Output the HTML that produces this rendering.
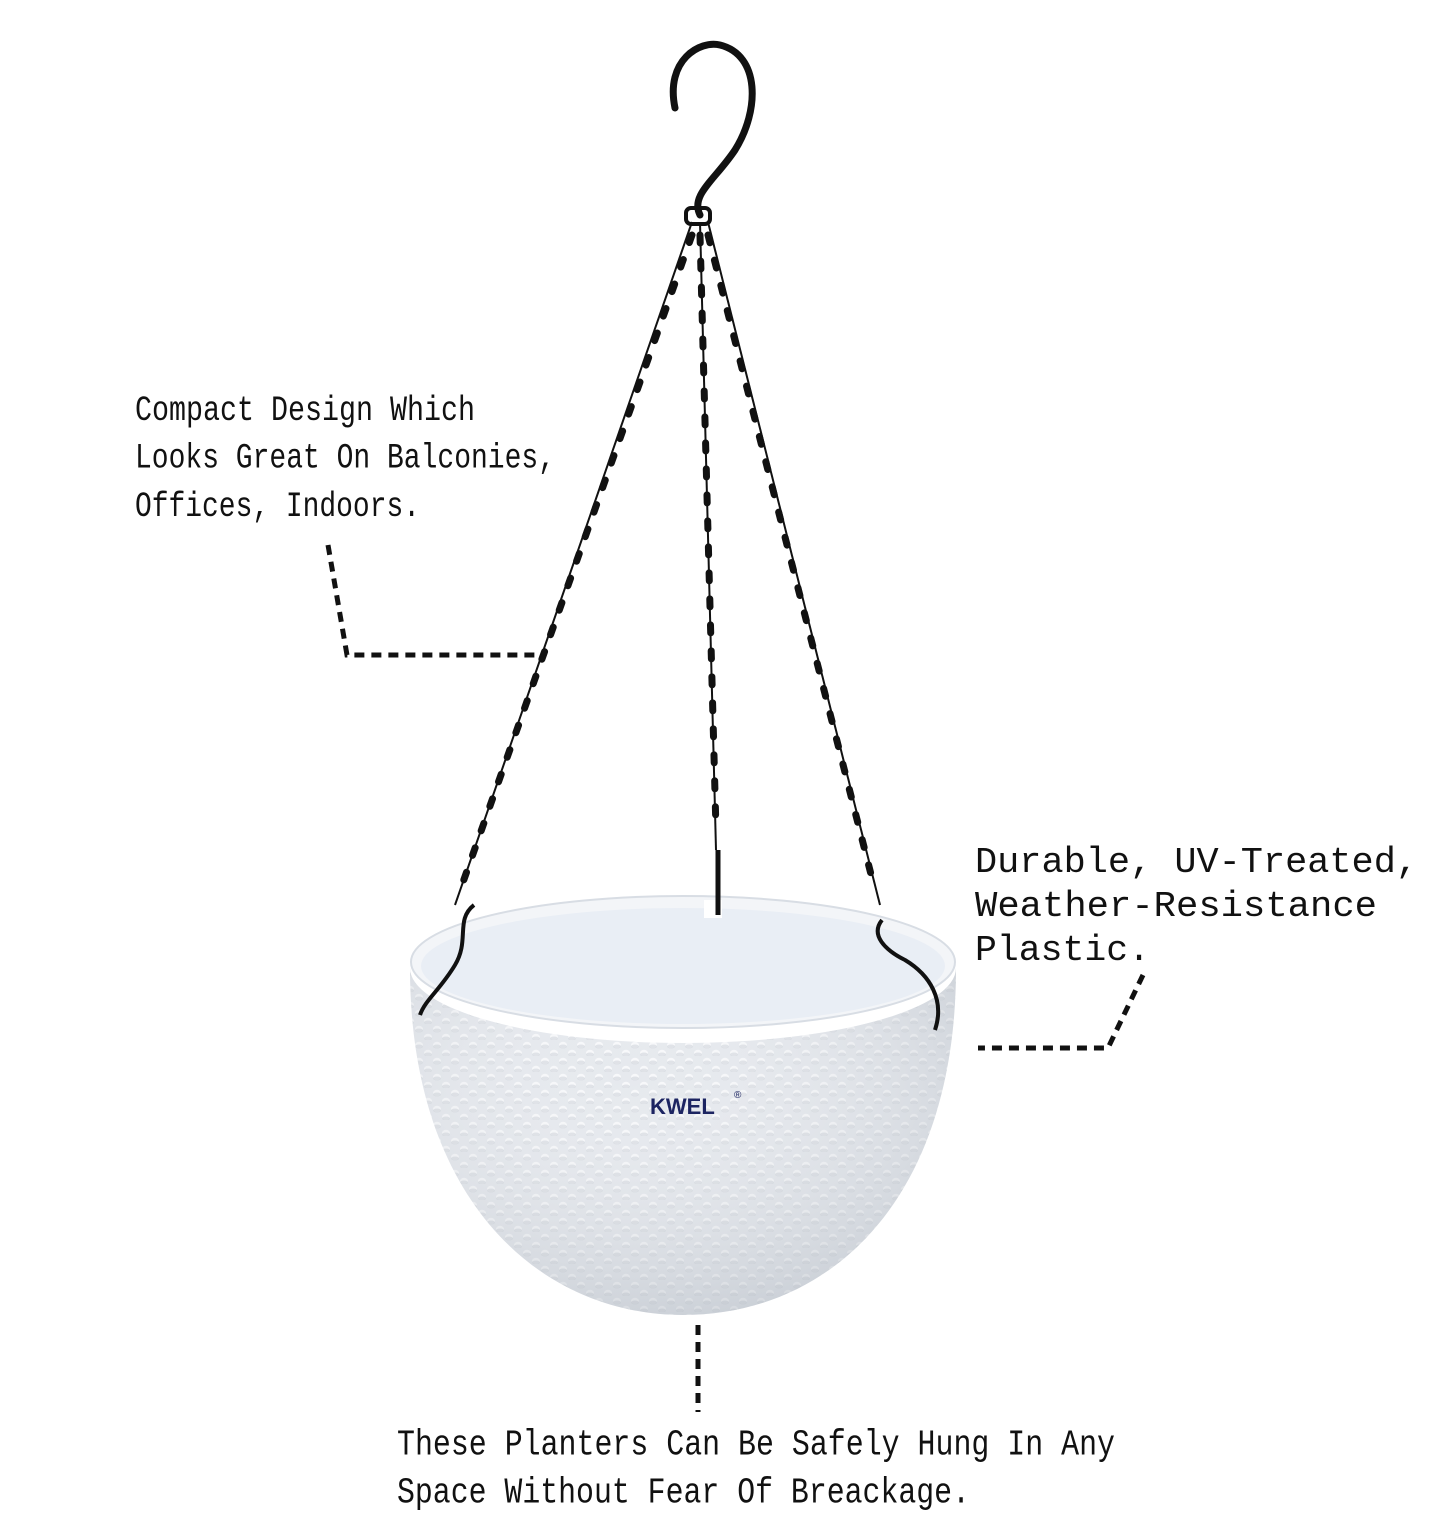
<!DOCTYPE html>
<html><head><meta charset="utf-8"><style>
html,body{margin:0;padding:0;background:#fff;}
svg{display:block}
.t{font-family:"Liberation Mono",monospace;fill:#111;}
</style></head><body>
<svg width="1445" height="1520" viewBox="0 0 1445 1520" xmlns="http://www.w3.org/2000/svg">
<defs>
<pattern id="dots" width="18" height="16" patternUnits="userSpaceOnUse">
<rect width="18" height="16" fill="#e6e9ee"/>
<ellipse cx="5" cy="5" rx="4" ry="3.2" fill="#f7f8fa"/>
<ellipse cx="5" cy="6.5" rx="4" ry="2" fill="#cfd4db" opacity="0.6"/>
<ellipse cx="14" cy="13" rx="4" ry="3.2" fill="#f7f8fa"/>
<ellipse cx="14" cy="14.5" rx="4" ry="2" fill="#cfd4db" opacity="0.6"/>
</pattern>
<radialGradient id="shade" cx="0.4" cy="0.3" r="0.8">
<stop offset="0" stop-color="#fff" stop-opacity="0"/>
<stop offset="1" stop-color="#9aa3ae" stop-opacity="0.45"/>
</radialGradient>
</defs>

<!-- hook -->
<path d="M675 108 C665 60 700 40 720 45 C760 55 760 110 735 150 C715 180 690 195 700 215" fill="none" stroke="#111" stroke-width="7" stroke-linecap="round"/>
<rect x="686" y="208" width="24" height="16" rx="5" fill="none" stroke="#111" stroke-width="4"/>

<!-- chains -->
<g stroke="#111" fill="none">
<line x1="692" y1="222" x2="455" y2="905" stroke-width="2"/>
<line x1="700" y1="222" x2="716" y2="850" stroke-width="2"/>
<line x1="708" y1="222" x2="880" y2="905" stroke-width="2"/>
</g>
<g stroke="#111" stroke-width="7" stroke-dasharray="8 18" stroke-linecap="round" fill="none">
<line x1="692" y1="235" x2="462" y2="885"/>
<line x1="700" y1="235" x2="716" y2="830"/>
<line x1="708" y1="235" x2="875" y2="890"/>
</g>

<!-- bowl body -->
<path d="M410 968 A273 75 0 0 0 956 968 C956 1200 830 1315 683 1315 C540 1315 410 1200 410 968 Z" fill="url(#dots)"/>
<path d="M410 968 A273 75 0 0 0 956 968 C956 1200 830 1315 683 1315 C540 1315 410 1200 410 968 Z" fill="url(#shade)"/>
<!-- rim / interior -->
<ellipse cx="683" cy="962" rx="272" ry="66" fill="#f3f5f8" stroke="#d8dde4" stroke-width="2"/>
<ellipse cx="683" cy="966" rx="262" ry="58" fill="#e9eef5"/>
<rect x="704" y="900" width="18" height="18" fill="#fff"/>
<text x="650" y="1114" font-family="Liberation Sans,sans-serif" font-weight="bold" font-size="22" fill="#1c2461">KWEL</text>
<text x="734" y="1098" font-family="Liberation Sans,sans-serif" font-size="10" fill="#1c2461">®</text>

<!-- hooks on rim -->
<path d="M474 905 C455 920 470 940 455 965 C440 990 425 1000 420 1015" fill="none" stroke="#111" stroke-width="4"/>
<path d="M882 920 C870 935 885 950 905 960 C930 975 945 1000 935 1030" fill="none" stroke="#111" stroke-width="4"/>
<path d="M718 850 L718 915" stroke="#111" stroke-width="5"/>

<!-- dotted connectors -->
<g stroke="#111" stroke-width="5" stroke-dasharray="10 7" fill="none">
<path d="M328 545 L347 655 L545 655"/>
<path d="M1143 975 L1108 1048 L978 1048"/>
<path d="M698 1325 L698 1412"/>
</g>

<!-- text -->
<g class="t" font-size="28" transform="scale(1,1.25)">
<text x="135" y="336" textLength="340" lengthAdjust="spacingAndGlyphs">Compact Design Which</text>
<text x="135" y="374" textLength="420" lengthAdjust="spacingAndGlyphs">Looks Great On Balconies,</text>
<text x="135" y="413" textLength="285" lengthAdjust="spacingAndGlyphs">Offices, Indoors.</text>
</g>
<g class="t" font-size="36">
<text x="975" y="872" textLength="443" lengthAdjust="spacingAndGlyphs">Durable, UV-Treated,</text>
<text x="975" y="916" textLength="402" lengthAdjust="spacingAndGlyphs">Weather-Resistance</text>
<text x="975" y="960" textLength="175" lengthAdjust="spacingAndGlyphs">Plastic.</text>
</g>
<g class="t" font-size="30" transform="scale(1,1.2)">
<text x="397" y="1212" textLength="718" lengthAdjust="spacingAndGlyphs">These Planters Can Be Safely Hung In Any</text>
<text x="397" y="1252" textLength="573" lengthAdjust="spacingAndGlyphs">Space Without Fear Of Breackage.</text>
</g>
</svg>
</body></html>
